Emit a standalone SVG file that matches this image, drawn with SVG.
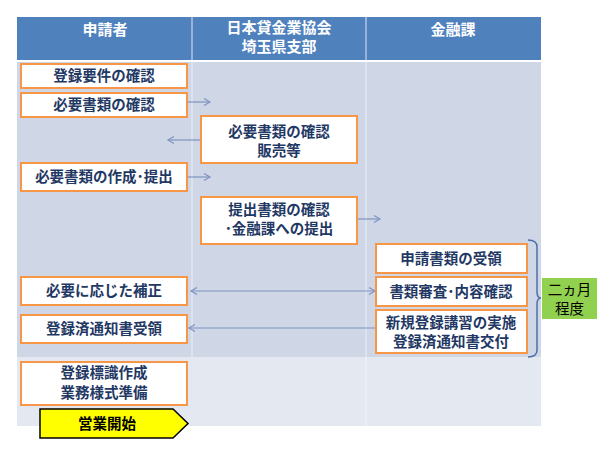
<svg xmlns="http://www.w3.org/2000/svg" width="600" height="450" viewBox="0 0 600 450">
<defs>
<style>
.hdr{fill:#4f81bd}
.htx{fill:#ffffff;font-family:"Noto Sans CJK JP","Noto Sans",sans-serif;font-size:15px;font-weight:bold;text-anchor:middle}
.box{fill:#ffffff;stroke:#f79646;stroke-width:2}
.tx{fill:#1f3864;font-family:"Noto Sans CJK JP","Noto Sans",sans-serif;font-size:14.5px;font-weight:bold;text-anchor:middle}
.con{stroke:#7f93c0;stroke-width:1.2;fill:none}
.blk{fill:#000000;font-family:"Noto Sans CJK JP","Noto Sans",sans-serif;font-size:14.5px;text-anchor:middle}
</style>
<marker id="ah" markerWidth="10" markerHeight="10" refX="8" refY="5" orient="auto-start-reverse" markerUnits="userSpaceOnUse">
<path d="M2,1.5 L8,5 L2,8.5" fill="none" stroke="#7f93c0" stroke-width="1.2"/>
</marker>
</defs>
<rect width="600" height="450" fill="#ffffff"/>
<g id="table">
<rect class="hdr" x="17" y="17" width="524" height="43"/>
<line x1="192" y1="17" x2="192" y2="60" stroke="#c9d6ea" stroke-width="1.2"/>
<line x1="366" y1="17" x2="366" y2="60" stroke="#c9d6ea" stroke-width="1.2"/>
<rect x="17" y="62" width="524" height="295" fill="#cfd7e6"/>
<rect x="17" y="357" width="524" height="69" fill="#e4e9f1"/>
<line x1="192" y1="62" x2="192" y2="426" stroke="#e2e7f0" stroke-width="1.5"/>
<line x1="366" y1="62" x2="366" y2="426" stroke="#e2e7f0" stroke-width="1.5"/>
<line x1="366" y1="357" x2="366" y2="426" stroke="#eef1f6" stroke-width="1.5"/>
<text class="htx" x="105" y="35">申請者</text>
<text class="htx" x="279" y="33">日本貸金業協会</text>
<text class="htx" x="279" y="52">埼玉県支部</text>
<text class="htx" x="453" y="35">金融課</text>
</g>
<g id="connectors">
<line class="con" x1="188" y1="102" x2="210" y2="102" marker-end="url(#ah)"/>
<line class="con" x1="200" y1="140" x2="168" y2="140" marker-end="url(#ah)"/>
<line class="con" x1="188" y1="177" x2="210" y2="177" marker-end="url(#ah)"/>
<line class="con" x1="357" y1="219" x2="380" y2="219" marker-end="url(#ah)"/>
<line class="con" x1="191" y1="291" x2="375" y2="291" marker-start="url(#ah)" marker-end="url(#ah)"/>
<line class="con" x1="375" y1="328" x2="189" y2="328" marker-end="url(#ah)"/>
<path d="M528,240 Q537,240 537,247 L537,292 Q537,298 541,298 Q537,298 537,304 L537,350 Q537,357 528,357" fill="none" stroke="#4f6fa8" stroke-width="1.5"/>
</g>
<g id="n1"><rect class="box" x="21" y="64" width="166" height="24"/><text class="tx" x="104" y="81">登録要件の確認</text></g>
<g id="n2"><rect class="box" x="21" y="93" width="166" height="24"/><text class="tx" x="104" y="110">必要書類の確認</text></g>
<g id="n3"><rect class="box" x="201" y="116" width="156" height="47"/><text class="tx" x="279" y="137">必要書類の確認</text><text class="tx" x="279" y="156">販売等</text></g>
<g id="n4"><rect class="box" x="21" y="163" width="166" height="28"/><text class="tx" x="104" y="182">必要書類の作成･提出</text></g>
<g id="n5"><rect class="box" x="201" y="197" width="156" height="47"/><text class="tx" x="279" y="215">提出書類の確認</text><text class="tx" x="279" y="234">･金融課への提出</text></g>
<g id="n6"><rect class="box" x="376" y="244" width="151" height="29"/><text class="tx" x="451" y="264">申請書類の受領</text></g>
<g id="n7"><rect class="box" x="21" y="277" width="166" height="28"/><text class="tx" x="104" y="296">必要に応じた補正</text></g>
<g id="n8"><rect class="box" x="376" y="277" width="151" height="29"/><text class="tx" x="451" y="297">書類審査･内容確認</text></g>
<g id="n9"><rect class="box" x="21" y="315" width="166" height="28"/><text class="tx" x="104" y="334">登録済通知書受領</text></g>
<g id="n10"><rect class="box" x="376" y="310" width="151" height="43"/><text class="tx" x="451" y="328">新規登録講習の実施</text><text class="tx" x="451" y="347">登録済通知書交付</text></g>
<g id="n11"><rect class="box" x="21" y="362" width="166" height="43"/><text class="tx" x="104" y="378">登録標識作成</text><text class="tx" x="104" y="398">業務様式準備</text></g>
<g id="n12"><path d="M40,409 L173,409 L188,423.5 L173,438 L40,438 Z" fill="#ffff00" stroke="#000000" stroke-width="1.5"/><text class="blk" x="107" y="429" font-weight="bold">営業開始</text></g>
<g id="n13"><rect x="542" y="278" width="55" height="41" fill="#92d050"/><text class="blk" x="569.5" y="295">二ヵ月</text><text class="blk" x="569.5" y="314">程度</text></g>
</svg>
